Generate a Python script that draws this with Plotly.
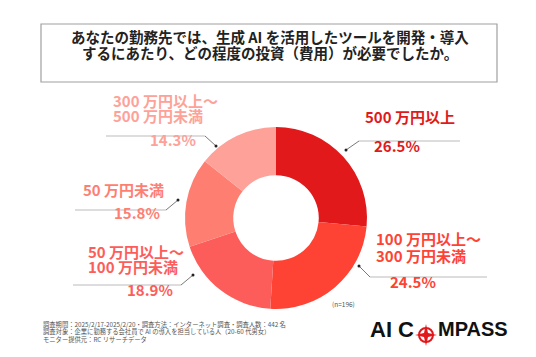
import plotly.graph_objects as go

W, H = 536, 357

title_lines = ["あなたの勤務先では、生成 AI を活用したツールを開発・導入",
               "するにあたり、どの程度の投資（費用）が必要でしたか。"]
categories = ["500 万円以上", "100 万円以上～\n300 万円未満", "50 万円以上～\n100 万円未満",
              "50 万円未満", "300 万円以上～\n500 万円未満"]
values = [26.5, 24.5, 18.9, 15.8, 14.3]
colors = ["#e1191b", "#fe4335", "#fd5d5a", "#fe7f72", "#fea198"]
notes = ["調査期間：2025/2/17-2025/2/20・調査方法：インターネット調査・調査人数：442 名",
         "調査対象：企業に勤務する会社員で AI の導入を担当している人（20-60 代男女）",
         "モニター提供元：RC リサーチデータ"]
n_text = "(n=196)"

FONT = "Noto Sans CJK JP"

def px(x):
    return x / W

def py(y):
    return 1 - y / H

def ty_(y, size):
    # compensate vertical offset of CJK font in annotation boxes
    return py(y - 0.6 * size - 1)

cx, cy, r = 268, 210, 91

fig = go.Figure(go.Pie(
    values=values, labels=[c.replace("\n", " ") for c in categories],
    marker=dict(colors=colors, line=dict(width=0)),
    hole=0.47, sort=False, direction="clockwise", rotation=0,
    textinfo="none", hoverinfo="skip", showlegend=False,
    domain=dict(x=[px(cx - r), px(cx + r)], y=[py(cy + r), py(cy - r)]),
))

# (text_x, first_line_y, line_gap, pct_x, pct_y, dot, elbow, line_end)
layout_pos = [
    (355, 118, 0, 364, 147, (338, 142), (351, 133), 452),
    (366, 240, 17, 380, 283, (351, 258), (362, 269), 479),
    (78, 253, 15, 117, 291, (185, 267), (173, 277), 65),
    (73, 191, 0, 104, 215, (170, 192), (158, 202), 67),
    (103, 103, 14, 140, 141, (208, 138), (197, 128), 98),
]

ann = []
shapes = []
LS = 15
for cat, v, col, pos in zip(categories, values, colors, layout_pos):
    tx, ty, sp, pxx, pyy, dot, elbow, lend = pos
    for i, line in enumerate(cat.split("\n")):
        ann.append(dict(x=px(tx), y=ty_(ty + i * sp, LS), xref="paper", yref="paper",
                        text=f"<b>{line}</b>", showarrow=False, xanchor="left", yanchor="middle",
                        font=dict(family=FONT, size=LS, color=col)))
    ann.append(dict(x=px(pxx), y=ty_(pyy, LS), xref="paper", yref="paper",
                    text=f"<b>{v}%</b>", showarrow=False, xanchor="left", yanchor="middle",
                    font=dict(family=FONT, size=LS, color=col)))
    shapes.append(dict(type="line", xref="paper", yref="paper",
                       x0=px(dot[0]), y0=py(dot[1]), x1=px(elbow[0]), y1=py(elbow[1]),
                       line=dict(color="#555555", width=0.8)))
    shapes.append(dict(type="line", xref="paper", yref="paper",
                       x0=px(elbow[0]), y0=py(elbow[1]), x1=px(lend), y1=py(elbow[1]),
                       line=dict(color="#bbbbbb", width=1.2)))
    shapes.append(dict(type="circle", xref="paper", yref="paper",
                       x0=px(dot[0] - 1.5), y0=py(dot[1] + 1.5), x1=px(dot[0] + 1.5), y1=py(dot[1] - 1.5),
                       fillcolor="#222222", line=dict(width=0)))

# title box
shapes.append(dict(type="rect", xref="paper", yref="paper",
                   x0=px(33), y0=py(74), x1=px(489), y1=py(16),
                   line=dict(color="#a0a0a0", width=1.2), fillcolor="rgba(0,0,0,0)"))
TS = 14.5
for i, line in enumerate(title_lines):
    ann.append(dict(x=px(262), y=ty_(38 + i * 16, TS), xref="paper", yref="paper",
                    text=f"<b>{line}</b>", showarrow=False, xanchor="center", yanchor="middle",
                    font=dict(family=FONT, size=TS, color="#222222")))

# notes
NS = 6.3
for i, line in enumerate(notes):
    ann.append(dict(x=px(33), y=py(322 + i * 7.5 - 6), xref="paper", yref="paper",
                    text=line, showarrow=False, xanchor="left", yanchor="middle",
                    font=dict(family=FONT, size=NS, color="#555555")))

ann.append(dict(x=px(322), y=py(301 - 5), xref="paper", yref="paper", text=n_text,
                showarrow=False, xanchor="left", yanchor="middle",
                font=dict(family=FONT, size=6.5, color="#555555")))

# logo
ann.append(dict(x=px(408), y=py(321), xref="paper", yref="paper", text="<b>AI C</b>",
                showarrow=False, xanchor="right", yanchor="middle",
                font=dict(family="Liberation Sans", size=22, color="#111111")))
ann.append(dict(x=px(428), y=py(321), xref="paper", yref="paper", text="<b>MPASS</b>",
                showarrow=False, xanchor="left", yanchor="middle",
                font=dict(family="Liberation Sans", size=20, color="#111111")))
lx, ly = 418, 327
shapes.append(dict(type="circle", xref="paper", yref="paper",
                   x0=px(lx - 7), y0=py(ly + 7), x1=px(lx + 7), y1=py(ly - 7),
                   line=dict(color="#e1191b", width=2)))
star = [(lx, ly - 11), (lx + 2, ly - 2), (lx + 11, ly), (lx + 2, ly + 2), (lx, ly + 11),
        (lx - 2, ly + 2), (lx - 11, ly), (lx - 2, ly - 2)]
path = "M " + " L ".join(f"{px(x)},{py(y)}" for x, y in star) + " Z"
shapes.append(dict(type="path", xref="paper", yref="paper", path=path,
                   fillcolor="#e1191b", line=dict(width=0)))

fig.update_layout(width=W, height=H, margin=dict(l=0, r=0, t=0, b=0),
                  paper_bgcolor="white", plot_bgcolor="white",
                  annotations=ann, shapes=shapes)
fig.write_html("out.html")
